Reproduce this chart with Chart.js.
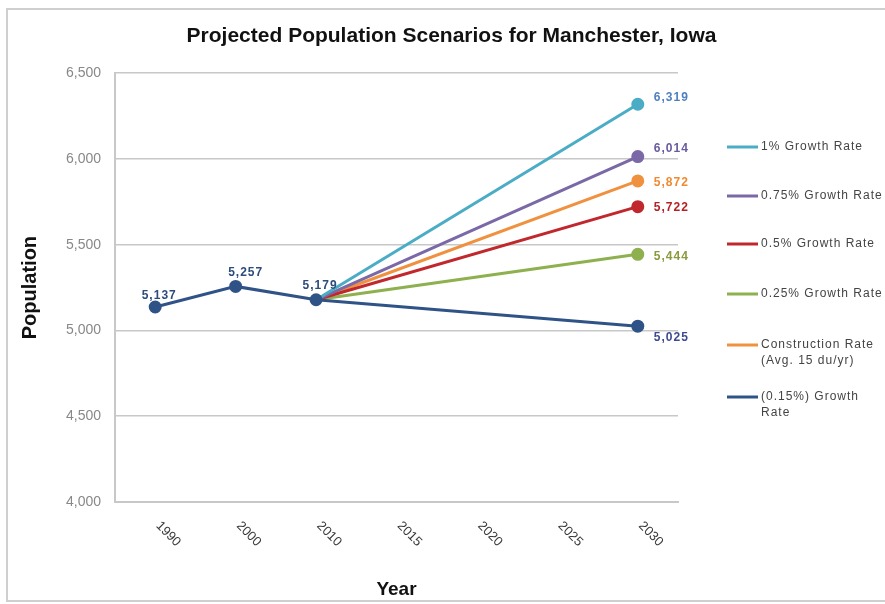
<!DOCTYPE html>
<html>
<head>
<meta charset="utf-8">
<script src="https://cdn.jsdelivr.net/npm/chart.js@4.4.1/dist/chart.umd.min.js"></script>
<style>
  html, body { margin: 0; padding: 0; background: #fff; }
  #wrap { width: 885px; height: 604px; position: relative; }
</style>
</head>
<body>
<div id="wrap"><canvas id="grafico" width="885" height="604"></canvas></div>
<script>
const years = ['1990', '2000', '2010', '2015', '2020', '2025', '2030'];

// census counts, then the 2030 projection of each scenario (2010 is the common start)
const growth100 = [null, null, 5179, null, null, null, 6319];
const growth075 = [null, null, 5179, null, null, null, 6014];
const growth050 = [null, null, 5179, null, null, null, 5722];
const growth025 = [null, null, 5179, null, null, null, 5444];
const construction = [null, null, 5179, null, null, null, 5872];
const decline015 = [5137, 5257, 5179, null, null, null, 5025];

const yTicks = [4000, 4500, 5000, 5500, 6000, 6500];

const series = [
    { label: ['1% Growth Rate'], data: growth100, color: '#4BACC6', text: '#4F7FC0', off: [16, -7] },
    { label: ['0.75% Growth Rate'], data: growth075, color: '#7B68A6', text: '#6A5A9E', off: [16, -8] },
    { label: ['0.5% Growth Rate'], data: growth050, color: '#C0282D', text: '#B52025', off: [16, 1] },
    { label: ['0.25% Growth Rate'], data: growth025, color: '#8EB04E', text: '#8A9A3E', off: [16, 2] },
    { label: ['Construction Rate', '(Avg. 15 du/yr)'], data: construction, color: '#F0913F', text: '#F08A30', off: [16, 2] },
    { label: ['(0.15%) Growth', 'Rate'], data: decline015, color: '#2F5386', text: '#3D4A8F', off: [16, 11] }
];

const histText = '#2C4C7C';
const histOffsets = [[4, -11], [10, -14], [4, -14]];
const legendRows = [147, 196, 244, 294, 345, 397];

// frame round the whole figure
const framePlugin = {
    id: 'frame',
    beforeDraw(chart) {
        const c = chart.ctx;
        c.save();
        c.fillStyle = '#fff';
        c.fillRect(0, 0, chart.width, chart.height);
        c.strokeStyle = '#cfcfcf';
        c.lineWidth = 2;
        c.strokeRect(7, 9, chart.width + 10, chart.height - 12);
        c.restore();
    }
};

// value labels next to the points
const valueLabels = {
    id: 'valueLabels',
    afterDatasetsDraw(chart) {
        const c = chart.ctx;
        c.save();
        c.font = 'bold 12px "Liberation Sans"';
        c.letterSpacing = '1px';
        c.textBaseline = 'middle';
        series.forEach((s, di) => {
            const meta = chart.getDatasetMeta(di);
            s.data.forEach((v, i) => {
                if (v === null) return;
                const pt = meta.data[i];
                const txt = v.toLocaleString('en-US');
                if (i === years.length - 1) {
                    c.fillStyle = s.text;
                    c.textAlign = 'left';
                    c.fillText(txt, pt.x + s.off[0], pt.y + s.off[1]);
                } else if (di === series.length - 1) {
                    c.fillStyle = histText;
                    c.textAlign = 'center';
                    c.fillText(txt, pt.x + histOffsets[i][0], pt.y + histOffsets[i][1]);
                }
            });
        });
        c.restore();
    }
};

// x tick labels, slanted downwards
const slantTicks = {
    id: 'slantTicks',
    afterDraw(chart) {
        const x = chart.scales.x;
        const c = chart.ctx;
        c.save();
        c.font = '13px "Liberation Sans"';
        c.fillStyle = '#3a3a3a';
        c.textAlign = 'center';
        c.textBaseline = 'middle';
        years.forEach((y, i) => {
            const px = x.getPixelForValue(i);
            c.save();
            c.translate(px + 13, x.top + 32);
            c.rotate(Math.PI / 4);
            c.fillText(y, 0, 0);
            c.restore();
        });
        c.restore();
    }
};

// legend on the right
const sideLegend = {
    id: 'sideLegend',
    afterDraw(chart) {
        const c = chart.ctx;
        c.save();
        c.font = '12px "Liberation Sans"';
        c.letterSpacing = '1px';
        c.fillStyle = '#444';
        c.textAlign = 'left';
        c.textBaseline = 'middle';
        series.forEach((s, i) => {
            const y = legendRows[i];
            c.strokeStyle = s.color;
            c.lineWidth = 3;
            c.beginPath();
            c.moveTo(727, y);
            c.lineTo(758, y);
            c.stroke();
            s.label.forEach((line, k) => c.fillText(line, 761, y + k * 16));
        });
        c.restore();
    }
};

const ctx = document.getElementById('grafico').getContext('2d');
const grafico = new Chart(ctx, {
    type: 'line',
    data: {
        labels: years,
        datasets: series.map((s, i) => ({
            label: s.label.join(' '),
            data: s.data,
            borderColor: s.color,
            backgroundColor: s.color,
            borderWidth: 3,
            pointRadius: s.data.map((v, k) => (k === years.length - 1 || (i === series.length - 1 && v !== null)) ? 5 : 0),
            pointHoverRadius: 5,
            spanGaps: true,
            order: i === series.length - 1 ? -1 : i
        }))
    },
    options: {
        responsive: false,
        animation: false,
        devicePixelRatio: 1,
        layout: { padding: { left: 18, right: 0, top: 0, bottom: 0 } },
        plugins: {
            legend: { display: false },
            tooltip: { enabled: false },
            title: {
                display: true,
                text: 'Projected Population Scenarios for Manchester, Iowa',
                color: '#111',
                font: { family: '"Liberation Sans"', size: 21, weight: 'bold' },
                padding: { top: 24, bottom: 24 }
            }
        },
        scales: {
            x: {
                offset: true,
                grid: { display: false },
                border: { color: '#c8c8c8', width: 2 },
                ticks: { display: false },
                title: {
                    display: true,
                    text: 'Year',
                    color: '#111',
                    font: { family: '"Liberation Sans"', size: 19, weight: 'bold' },
                    padding: { top: 0, bottom: 3 }
                },
                afterFit(scale) { scale.height = 102; }
            },
            y: {
                min: yTicks[0],
                max: yTicks[yTicks.length - 1],
                ticks: {
                    stepSize: 500,
                    color: '#888',
                    padding: 14,
                    font: { family: '"Liberation Sans"', size: 14 }
                },
                grid: { color: '#c8c8c8', lineWidth: 1.5, drawTicks: false },
                border: { color: '#c8c8c8', width: 2 },
                title: {
                    display: true,
                    text: 'Population',
                    color: '#111',
                    font: { family: '"Liberation Sans"', size: 20, weight: 'bold' },
                    padding: { top: 0, bottom: 0 }
                },
                afterFit(scale) { scale.width = 97; }
            },
            side: {
                position: 'right',
                min: 0,
                max: 1,
                grid: { display: false },
                border: { display: false },
                ticks: { display: false },
                afterFit(scale) { scale.width = 207; }
            }
        }
    },
    plugins: [framePlugin, valueLabels, slantTicks, sideLegend]
});
</script>
</body>
</html>
